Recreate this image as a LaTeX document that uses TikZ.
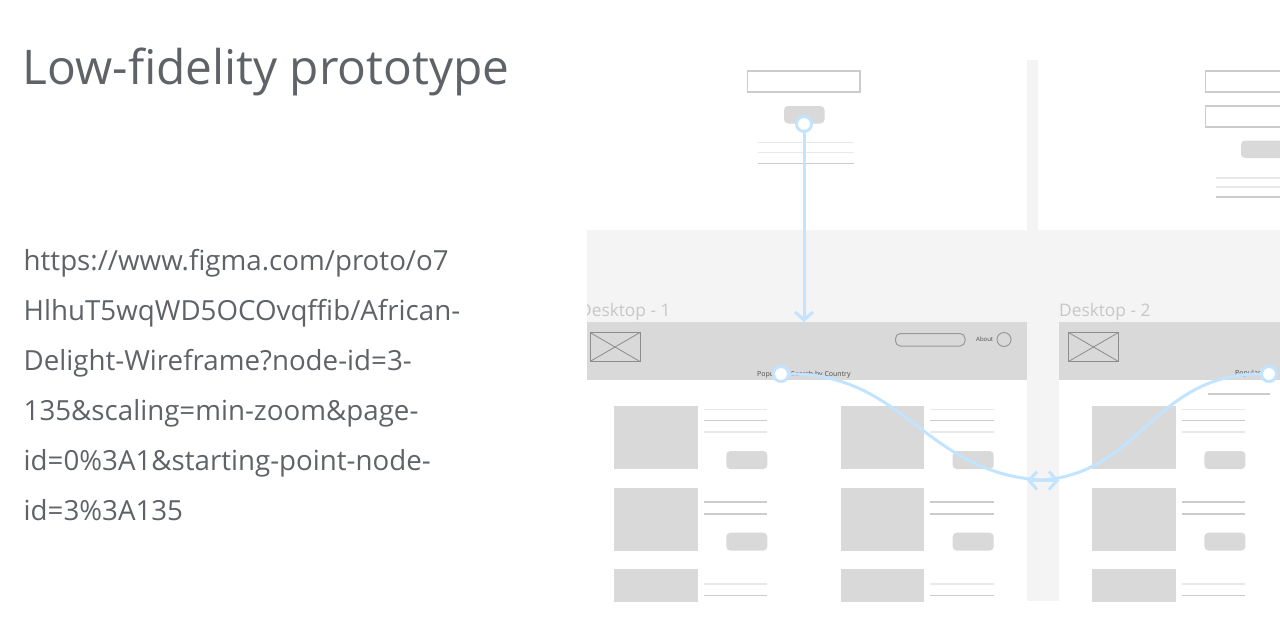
\documentclass[tikz,border=0pt]{standalone}
\usepackage{fontspec}
\setmainfont{Open Sans}
\usetikzlibrary{arrows.meta}
\definecolor{inkgray}{HTML}{5F6368}
\definecolor{canvasgray}{HTML}{F4F4F4}
\definecolor{blockgray}{HTML}{D9D9D9}
\definecolor{ruledark}{HTML}{CCCCCC}
\definecolor{rulelight}{HTML}{E8E8E8}
\definecolor{wireblue}{HTML}{C2E4FF}
\tikzset{
  block/.style={fill=blockgray, draw=none},
  softbtn/.style={fill=blockgray, draw=none, rounded corners=4},
  inputbox/.style={draw=ruledark, line width=1.8, fill=white},
  outline/.style={draw=black!45, line width=0.8},
  wire/.style={draw=wireblue, line width=3, >={Straight Barb[length=8pt,width=18pt]}},
  hotspot/.style={circle, draw=wireblue, fill=white, line width=3, minimum size=15, inner sep=0},
  tiny/.style={font=\fontsize{7}{8}\selectfont, text=black!70, inner sep=0, anchor=base west}
}
\begin{document}
\begin{tikzpicture}[x=1pt,y=-1pt]
  \useasboundingbox (0,0) rectangle (1280,622);
  \node [anchor=base west, inner sep=0, text=inkgray, font=\fontsize{47.8}{50}\selectfont]
    (title) at (22.5,84) {Low-fidelity prototype};
  \node [anchor=north west, inner sep=0, align=left, text=inkgray, font=\fontsize{27.7}{50}\selectfont]
    (link) at (23.5,249) {https://www.figma.com/proto/o7\\
      HlhuT5wqWD5OCOvqffib/African-\\
      Delight-Wireframe?node-id=3-\\
      135\&scaling=min-zoom\&page-\\
      id=0\%3A1\&starting-point-node-\\
      id=3\%3A135};
  \begin{scope}
    \clip (587,60) rectangle (1280,601);
    % canvas behind the frames
    \fill [canvasgray] (587,230) rectangle (1280,601);
    \fill [canvasgray] (1027,60) rectangle (1038,230);
    \fill [white] (587,379) rectangle (1027,601);
    \fill [white] (1059,379) rectangle (1280,601);
    % frame titles
    \node [anchor=base west, inner sep=0, text=black!22, font=\fontsize{17.3}{18}\selectfont]
      (deskOneName) at (579,316) {Desktop - 1};
    \node [anchor=base west, inner sep=0, text=black!22, font=\fontsize{17.3}{18}\selectfont]
      (deskTwoName) at (1059,316) {Desktop - 2};
    % first form
    \draw [inputbox] (747.5,71) rectangle (860,92);
    \fill [softbtn] (784,106) rectangle (824.5,123.5);
    \foreach \y/\c in {142.5/rulelight,152.5/rulelight,163.5/ruledark}
      \draw [\c, line width=1.6] (758,\y) -- (854,\y);
    % second form
    \draw [inputbox] (1205.5,71) rectangle (1300,92);
    \draw [inputbox] (1205.5,106) rectangle (1300,127);
    \fill [softbtn] (1241,140.5) rectangle (1300,158);
    \foreach \y/\c in {178/rulelight,187/rulelight,197/ruledark}
      \draw [\c, line width=1.6] (1216,\y) -- (1300,\y);
    % headers
    \foreach \x/\w in {587/440,1059/221} {
      \fill [block] (\x,322) rectangle +(\w,57.5);
    }
    \foreach \x in {590,1068.5} {
      \draw [outline] (\x,332.5) rectangle +(50,29);
      \draw [outline] (\x,332.5) -- +(50,29);
      \draw [outline] (\x,361.5) -- +(50,-29);
    }
    \draw [draw=black!40, line width=1, rounded corners=5, fill=blockgray] (895.5,333.5) rectangle (965,346);
    \node [tiny, font=\fontsize{6}{7}\selectfont] (about) at (976,341.5) {About};
    \node [circle, draw=black!40, line width=1, minimum size=14, inner sep=0] (avatar) at (1004,339.5) {};
    \node [tiny] (popOne) at (757,376.5) {Popular};
    \node [tiny] (search) at (791,376.5) {Search by Country};
    \node [tiny] (popTwo) at (1235,375.5) {Popular};
    \draw [ruledark, line width=1.6] (1208,393.7) -- (1270,393.7);
    % product cards
    \foreach \x in {614.3,840.7,1092.4} {
      \begin{scope}[shift={(\x,0)}]
        \fill [block] (0,406) rectangle (83.2,469);
        \fill [block] (0,487.5) rectangle (83.2,550.5);
        \fill [block] (0,568.7) rectangle (83.2,610);
        \foreach \y/\c in {409.5/rulelight,420.5/ruledark,432/rulelight,
                           502/ruledark,513.7/ruledark,583.7/rulelight,595.3/ruledark}
          \draw [\c, line width=1.6] (89.5,\y) -- (153,\y);
        \fill [softbtn] (112,451) rectangle (153,469);
        \fill [softbtn] (112,532.7) rectangle (153,550.5);
      \end{scope}
    }
    % prototype wires
    \node [hotspot] (loginHot) at (804,124) {};
    \node [hotspot] (popHot) at (781,374) {};
    \node [hotspot] (backHot) at (1269,374) {};
    \coordinate (deskOneTop) at (804,322);
    \coordinate (deskOneEdge) at (1027,480.5);
    \coordinate (deskTwoEdge) at (1059,480.5);
    \draw [wire, ->] (loginHot) -- (deskOneTop);
    \draw [wire, ->] (popHot) .. controls (910,374) and (925,480.5) .. (deskTwoEdge);
    \draw [wire, ->] (backHot) .. controls (1150,374) and (1140,480.5) .. (deskOneEdge);
  \end{scope}
\end{tikzpicture}
\end{document}
